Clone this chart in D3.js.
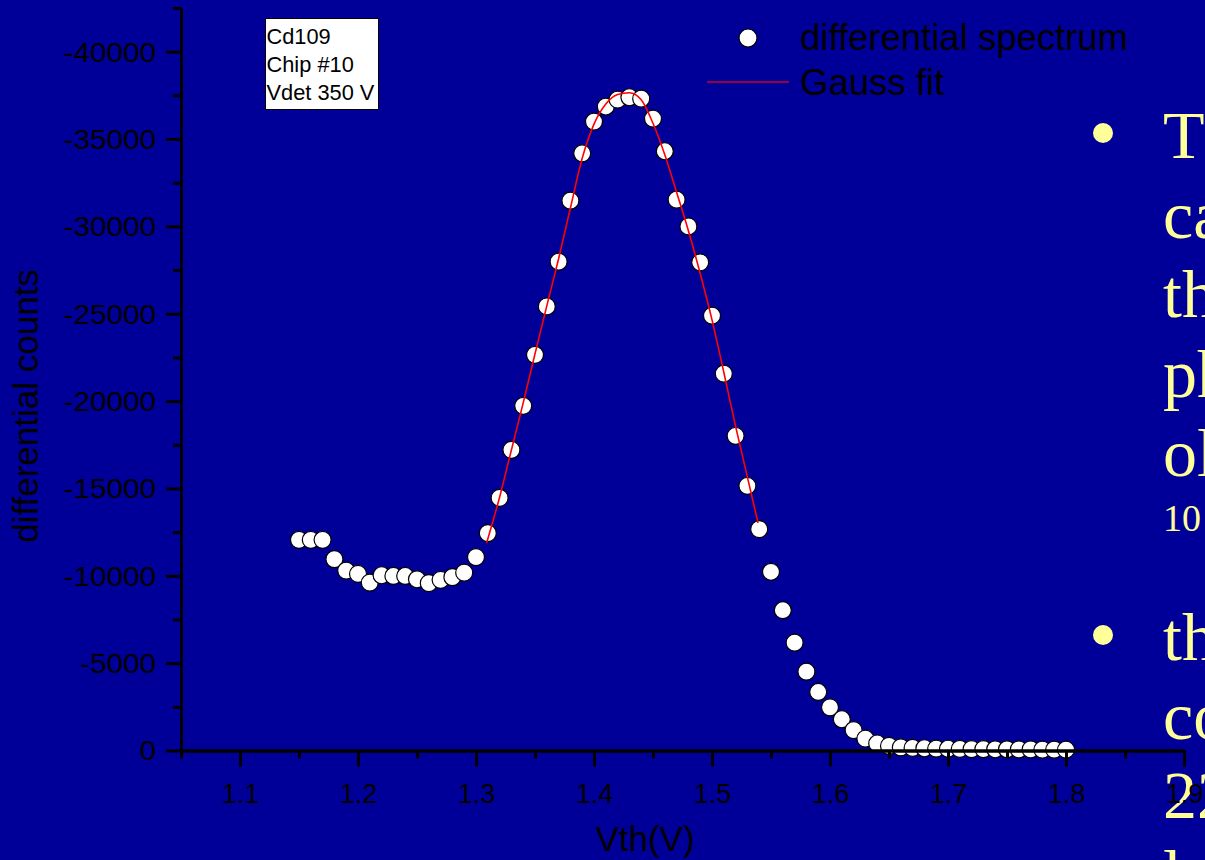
<!DOCTYPE html>
<html>
<head>
<meta charset="utf-8">
<script src="https://cdn.jsdelivr.net/npm/d3@7"></script>
<style>
  body { margin: 0; background: #000099; }
  svg { display: block; }
</style>
</head>
<body>
<div id="chart"></div>
<script>
// measured spectrum (Vth in V, differential counts)
var vth = [1.15,1.16,1.17,1.18,1.19,1.20,1.21,1.22,1.23,1.24,1.25,1.26,1.27,1.28,1.29,1.30,
  1.31,1.32,1.33,1.34,1.35,1.36,1.37,1.38,1.39,1.40,1.41,1.42,1.43,1.44,1.45,1.46,1.47,1.48,1.49,1.50,
  1.51,1.52,1.53,1.54,1.55,1.56,1.57,1.58,1.59,1.60,1.61,1.62,1.63,1.64,1.65,1.66,1.67,1.68,1.69,1.70,
  1.71,1.72,1.73,1.74,1.75,1.76,1.77,1.78,1.79,1.80];
var counts = [-12060,-12060,-12060,-10950,-10300,-10110,-9610,-10030,-9990,-9990,-9800,-9580,-9770,-9920,-10180,-11070,
  -12440,-14460,-17210,-19730,-22650,-25420,-27980,-31470,-34180,-36000,-36860,-37260,-37390,-37310,-36170,-34300,-31530,-30000,-27940,-24890,
  -21570,-18010,-15150,-12670,-10230,-8030,-6170,-4510,-3350,-2470,-1790,-1170,-680,-400,-260,-180,-150,-130,-110,-100,
  -90,-80,-80,-70,-70,-60,-60,-50,-50,-50];

// gauss fit curve
var fitX = [1.309,1.32,1.33,1.34,1.35,1.36,1.37,1.38,1.39,1.40,1.41,1.42,1.43,1.44,1.45,1.46,1.47,1.48,1.49,1.50,1.51,1.52,1.53,1.539];
var fitY = [-11880,-14500,-17200,-19900,-22700,-25450,-28150,-31050,-33900,-35850,-37000,-37550,-37650,-37250,-35900,-34100,-31950,-29750,-27300,-24650,-21650,-18550,-15650,-13030];

var xMajor = [1.1,1.2,1.3,1.4,1.5,1.6,1.7,1.8,1.9];
var xMinor = [1.05,1.15,1.25,1.35,1.45,1.55,1.65,1.75,1.85];
var yMajor = [0,-5000,-10000,-15000,-20000,-25000,-30000,-35000,-40000];
var yMinor = [-2500,-7500,-12500,-17500,-22500,-27500,-32500,-37500,-42500];

var infoLines = ["Cd109", "Chip #10", "Vdet 350 V"];
var slideLines1 = ["T", "ca", "th", "ph", "ol"];
var slideLines2 = ["th", "co", "22", "l"];

var width = 1205;
var height = 860;

var svg = d3.select('#chart')
    .append('svg')
    .attr('width', width)
    .attr('height', height);

svg.append('rect').attr('width', width).attr('height', height).attr('fill', '#000099');

// slide text behind the plot
var slide = svg.append('g')
    .attr('fill', '#FFFF99')
    .style('font-family', '"Liberation Serif", "Times New Roman", serif');

slide.append('circle').attr('cx', 1103).attr('cy', 133).attr('r', 10);
slide.append('circle').attr('cx', 1103).attr('cy', 635).attr('r', 10);

slide.selectAll('text.l1')
    .data(slideLines1)
    .enter()
    .append('text')
    .attr('class', 'l1')
    .attr('x', 1163)
    .attr('y', (d, i) => 158 + i * 79.5)
    .style('font-size', '68px')
    .text(d => d);

slide.append('text')
    .attr('x', 1163)
    .attr('y', 531)
    .style('font-size', '38px')
    .text('10');

slide.selectAll('text.l2')
    .data(slideLines2)
    .enter()
    .append('text')
    .attr('class', 'l2')
    .attr('x', 1163)
    .attr('y', (d, i) => 660 + i * 79)
    .style('font-size', '68px')
    .text(d => d);

var x = d3.scaleLinear().domain([1.05, 1.9]).range([181, 1184]);
var y = d3.scaleLinear().domain([0, -42500]).range([750.5, 8]);

var font = 'Arial, "Liberation Sans", sans-serif';

// data points
svg.append('g')
    .selectAll('circle')
    .data(vth)
    .enter()
    .append('circle')
    .attr('cx', d => x(d))
    .attr('cy', (d, i) => y(counts[i]))
    .attr('r', 8.5)
    .attr('fill', 'white')
    .attr('stroke', 'black')
    .attr('stroke-width', 1.2);

// gauss fit on top
var line = d3.line()
    .x(d => x(d[0]))
    .y(d => y(d[1]))
    .curve(d3.curveMonotoneX);

svg.append('path')
    .datum(fitX.map((d, i) => [d, fitY[i]]))
    .attr('d', line)
    .attr('fill', 'none')
    .attr('stroke', 'red')
    .attr('stroke-width', 1.6);

// x axis (drawn over the points)
var gx = svg.append('g').attr('transform', 'translate(0,750.5)');
gx.call(d3.axisBottom(x).tickValues(xMinor).tickSize(8).tickSizeOuter(0).tickFormat(''));
gx.append('g').call(d3.axisBottom(x).tickValues(xMajor).tickSize(16).tickSizeOuter(0).tickFormat(d3.format('.1f')));
gx.selectAll('path, line').attr('stroke', 'black').attr('stroke-width', 3);
gx.selectAll('text')
    .attr('y', 52)
    .attr('dy', 0)
    .attr('fill', 'black')
    .style('font-family', font)
    .style('font-size', '27px');

// y axis
var gy = svg.append('g').attr('transform', 'translate(181,0)');
gy.call(d3.axisLeft(y).tickValues(yMinor).tickSize(8).tickSizeOuter(0).tickFormat(''));
gy.append('g').call(d3.axisLeft(y).tickValues(yMajor).tickSize(15).tickSizeOuter(0).tickFormat(d => String(d)));
gy.selectAll('path, line').attr('stroke', 'black').attr('stroke-width', 3);
gy.selectAll('text')
    .attr('x', 0)
    .attr('dy', '0.35em')
    .attr('transform', 'translate(-25,0) scale(1.1,1)')
    .attr('fill', 'black')
    .style('font-family', font)
    .style('font-size', '27px');

// axis titles
svg.append('text')
    .attr('transform', 'translate(38,406) rotate(-90)')
    .attr('text-anchor', 'middle')
    .style('font-family', font)
    .style('font-size', '35px')
    .text('differential counts');

svg.append('text')
    .attr('x', 645)
    .attr('y', 851)
    .attr('text-anchor', 'middle')
    .style('font-family', font)
    .style('font-size', '35px')
    .text('Vth(V)');

// info box
svg.append('rect')
    .attr('x', 265.5).attr('y', 18.5)
    .attr('width', 113).attr('height', 91)
    .attr('fill', 'white')
    .attr('stroke', 'black')
    .attr('stroke-width', 1);

svg.selectAll('text.info')
    .data(infoLines)
    .enter()
    .append('text')
    .attr('class', 'info')
    .attr('x', 266.5)
    .attr('y', (d, i) => 44 + i * 28)
    .style('font-family', font)
    .style('font-size', '21.8px')
    .text(d => d);

// legend
svg.append('circle')
    .attr('cx', 748).attr('cy', 38).attr('r', 9)
    .attr('fill', 'white').attr('stroke', 'black').attr('stroke-width', 1.2);
svg.append('line')
    .attr('x1', 707).attr('x2', 789).attr('y1', 82).attr('y2', 82)
    .attr('stroke', '#cc0022').attr('stroke-width', 1.5);
svg.append('text')
    .attr('x', 800).attr('y', 50)
    .style('font-family', font).style('font-size', '36.5px')
    .text('differential spectrum');
svg.append('text')
    .attr('x', 800).attr('y', 95)
    .style('font-family', font).style('font-size', '36.5px')
    .text('Gauss fit');
</script>
</body>
</html>
